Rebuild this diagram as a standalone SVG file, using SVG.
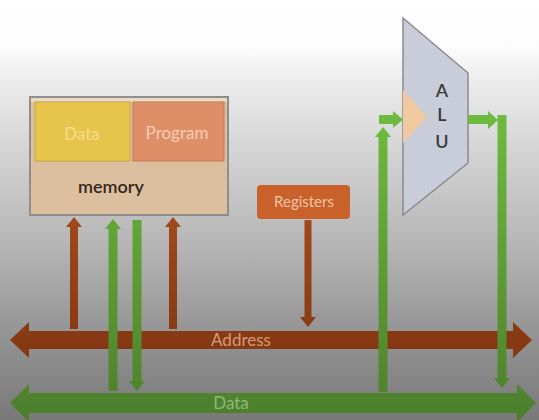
<svg xmlns="http://www.w3.org/2000/svg" width="539" height="420" viewBox="0 0 539 420">
<defs>
<linearGradient id="bg" x1="0" y1="0" x2="0" y2="420" gradientUnits="userSpaceOnUse">
<stop offset="0" stop-color="#ffffff"/>
<stop offset="0.11" stop-color="#fcfcfc"/>
<stop offset="0.2" stop-color="#ebebeb"/>
<stop offset="0.36" stop-color="#d4d4d4"/>
<stop offset="0.6" stop-color="#b3b3b3"/>
<stop offset="0.8" stop-color="#939393"/>
<stop offset="1" stop-color="#797979"/>
</linearGradient>
<linearGradient id="brown" x1="0" y1="200" x2="0" y2="400" gradientUnits="userSpaceOnUse">
<stop offset="0" stop-color="#a44b1c"/>
<stop offset="1" stop-color="#7a3210"/>
</linearGradient>
<linearGradient id="green" x1="0" y1="100" x2="0" y2="420" gradientUnits="userSpaceOnUse">
<stop offset="0" stop-color="#70be40"/>
<stop offset="1" stop-color="#4c7e2c"/>
</linearGradient>
<style>
.br{fill:url(#brown)}
.gr{fill:url(#green)}
.t{font-family:Lato,"Open Sans","Liberation Sans",sans-serif;text-anchor:middle}
.alu{font-size:18px;font-weight:600;fill:#3a3a3a}
</style>
</defs>
<rect x="0" y="0" width="539" height="420" fill="url(#bg)"/>

<g id="memory">
<rect x="30" y="97" width="198" height="118" fill="#dbbf9f" stroke="#8e8e8e" stroke-width="2"/>
<rect x="31" y="98" width="196" height="4" fill="#e9dac4"/>
<text class="t" x="111" y="193" font-size="18" font-weight="600" fill="#33261b">memory</text>
</g>
<g id="data-mem">
<rect x="35" y="102" width="95" height="59" fill="#e7c44c" stroke="#c9a640" stroke-width="1"/>
<text class="t" x="82" y="140" font-size="17" fill="#f3dd8e">Data</text>
</g>
<g id="program">
<rect x="133" y="102" width="91" height="59" fill="#df8f68" stroke="#c27a55" stroke-width="1"/>
<text class="t" x="177" y="139" font-size="17" fill="#f6cdb6">Program</text>
</g>
<g id="registers">
<rect x="257" y="185" width="93" height="34" rx="4" fill="#c9612b"/>
<text class="t" x="304" y="207" font-size="15" fill="#f2c4a6">Registers</text>
</g>
<g id="alu">
<polygon points="403,18 468,73 468,163 403,215" fill="#c9cdd9" stroke="#8a8a90" stroke-width="1.5"/>
<polygon points="403,90 427,117 403,143" fill="#f1c9a0"/>
<text class="t alu" x="442" y="97">A</text>
<text class="t alu" x="442" y="121">L</text>
<text class="t alu" x="442" y="148">U</text>
</g>

<g id="connectors">
<g id="address-bus">
<path class="br" d="M10,340 L29,322 V331 H513 V322 L532,340 L513,358 V349 H29 V358 Z"/>
<text class="t" x="241" y="346" font-size="17" fill="#d49a78">Address</text>
</g>
<g id="data-bus">
<path class="gr" d="M10,403 L29,384 V393 H517 V384 L536,403 L517,422 V413 H29 V422 Z"/>
<text class="t" x="231" y="409" font-size="17" fill="#8fb87a">Data</text>
</g>
<path class="br" d="M70,329 V227 H66 L74,217 L82,227 H78 V329 Z"/>
<path class="br" d="M169,329 V227 H165 L173,217 L181,227 H177 V329 Z"/>
<path class="br" d="M304.5,220 H311.5 V317 H316 L308,327 L300,317 H304.5 Z"/>
<path class="gr" d="M108.5,391 V229 H105 L113,219 L121,229 H117.5 V391 Z"/>
<path class="gr" d="M132.5,220 H141.5 V381 H145 L137,391 L129,381 H132.5 Z"/>
<path class="gr" d="M378.5,392 V137 H375 L383,127 L391,137 H387.5 V392 Z"/>
<path class="gr" d="M379,115 H393 V111 L403,119.5 L393,128 V124 H379 Z"/>
<path class="gr" d="M468,115 H488 V111 L498,120 L488,129 V124 H468 Z"/>
<path class="gr" d="M497.5,115 H506.5 V378 H510 L502,388 L494,378 H497.5 Z"/>
</g>
</svg>
